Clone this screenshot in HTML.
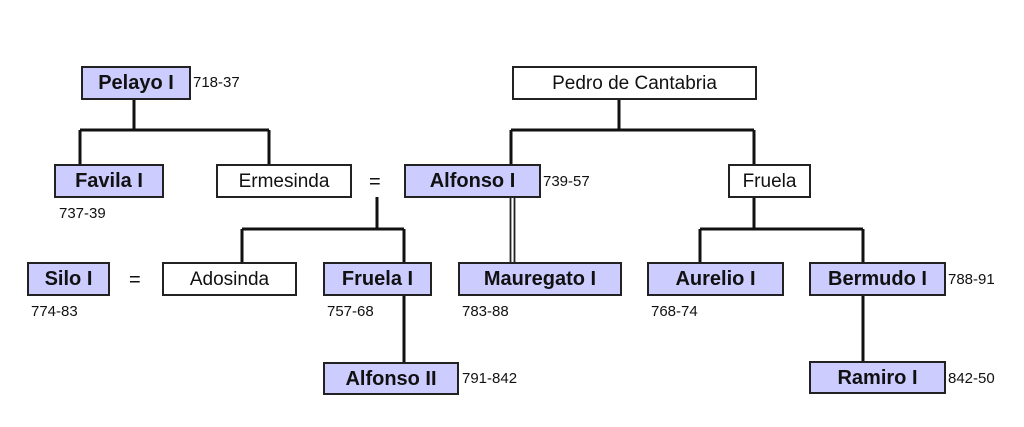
<!DOCTYPE html>
<html><head><style>
body{margin:0;width:1024px;height:427px;background:#fff;position:relative;overflow:hidden;font-family:"Liberation Sans",Arial,sans-serif;}
.b{position:absolute;box-sizing:border-box;border:2px solid #222;background:#ccccff;font-weight:bold;font-size:20px;display:flex;align-items:center;justify-content:center;color:#111;padding-top:1px;}
.w{background:#fff;font-weight:normal;font-size:19px;}
.t{position:absolute;font-size:15px;color:#111;line-height:1;}
.eq{position:absolute;font-size:20px;color:#111;line-height:1;}
svg{position:absolute;left:0;top:0;}
</style></head><body>
<svg width="1024" height="427">
<g stroke="#111" stroke-width="3" fill="none">
<path d="M134 99V130M80 130H269M80 130V164M269 130V164"/>
<path d="M619 99V130M511 130H754M511 130V164M754 130V164"/>
<path d="M377 197V229M242 229H404M242 229V262M404 229V262M404 296V362"/>
<path d="M754 197V229M700 229H863M700 229V262M863 229V262M863 296V361"/>
</g>
<path d="M510.5 197V262M514.5 197V262" stroke="#222" stroke-width="1.8"/>
</svg>
<div class="b" style="left:81px;top:66px;width:110px;height:34px">Pelayo I</div>
<div class="t" style="left:193px;top:75px">718-37</div>
<div class="b w" style="left:512px;top:66px;width:245px;height:34px">Pedro de Cantabria</div>
<div class="b" style="left:54px;top:164px;width:110px;height:34px">Favila I</div>
<div class="t" style="left:59px;top:206px">737-39</div>
<div class="b w" style="left:216px;top:164px;width:136px;height:34px">Ermesinda</div>
<div class="eq" style="left:369px;top:172px">=</div>
<div class="b" style="left:404px;top:164px;width:137px;height:34px">Alfonso I</div>
<div class="t" style="left:543px;top:174px">739-57</div>
<div class="b w" style="left:728px;top:164px;width:83px;height:34px">Fruela</div>
<div class="b" style="left:27px;top:262px;width:83px;height:34px">Silo I</div>
<div class="t" style="left:31px;top:304px">774-83</div>
<div class="eq" style="left:129px;top:270px">=</div>
<div class="b w" style="left:162px;top:262px;width:135px;height:34px">Adosinda</div>
<div class="b" style="left:323px;top:262px;width:109px;height:34px">Fruela I</div>
<div class="t" style="left:327px;top:304px">757-68</div>
<div class="b" style="left:458px;top:262px;width:164px;height:34px">Mauregato I</div>
<div class="t" style="left:462px;top:304px">783-88</div>
<div class="b" style="left:647px;top:262px;width:137px;height:34px">Aurelio I</div>
<div class="t" style="left:651px;top:304px">768-74</div>
<div class="b" style="left:809px;top:262px;width:137px;height:34px">Bermudo I</div>
<div class="t" style="left:948px;top:272px">788-91</div>
<div class="b" style="left:323px;top:362px;width:136px;height:33px">Alfonso II</div>
<div class="t" style="left:462px;top:371px">791-842</div>
<div class="b" style="left:809px;top:361px;width:137px;height:33px">Ramiro I</div>
<div class="t" style="left:948px;top:371px">842-50</div>
</body></html>
